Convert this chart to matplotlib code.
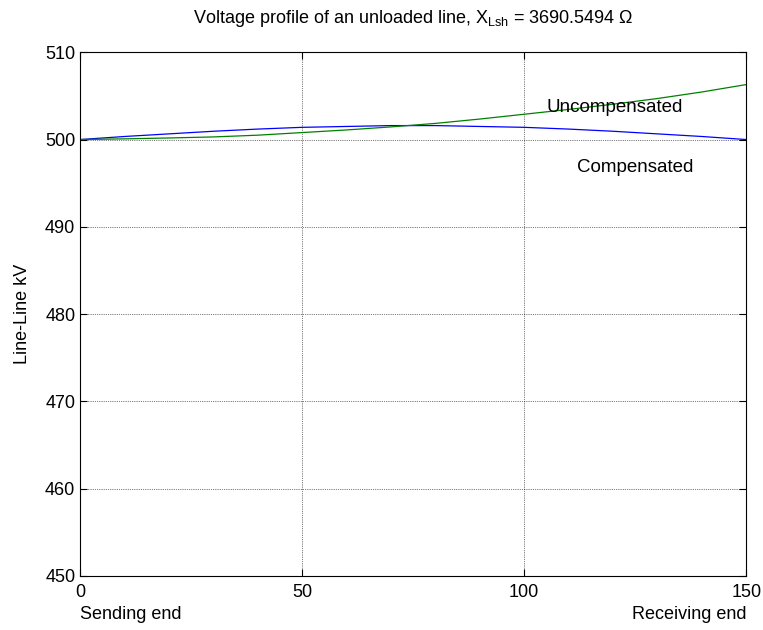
import matplotlib
matplotlib.use("Agg")
import matplotlib.pyplot as plt

plt.rcParams['font.family'] = ['Liberation Sans', 'DejaVu Sans']
plt.rcParams['mathtext.default'] = 'regular'

# distance along the line
dist = [0, 10, 20, 30, 40, 50, 60, 70, 80, 90, 100, 110, 120, 130, 140, 150]
# green: rises towards receiving end
uncomp = [500.0, 500.08, 500.18, 500.3, 500.5, 500.8, 501.1, 501.45, 501.85,
          502.35, 502.9, 503.45, 504.05, 504.7, 505.45, 506.3]
# blue: arc, back to 500 at receiving end
comp = [500.0, 500.35, 500.65, 500.95, 501.2, 501.4, 501.5, 501.6, 501.6,
        501.5, 501.4, 501.2, 500.95, 500.65, 500.35, 500.0]

xticks = [0, 50, 100, 150]
yticks = [450, 460, 470, 480, 490, 500, 510]

fig = plt.figure(figsize=(7.63, 6.3), dpi=100)
ax = fig.add_axes([0.105, 0.086, 0.873, 0.831])

ax.plot(dist, comp, color='blue', lw=0.9)
ax.plot(dist, uncomp, color='green', lw=0.9)

ax.set_xlim(0, 150)
ax.set_ylim(450, 510)
ax.set_xticks(xticks)
ax.set_yticks(yticks)
ax.tick_params(direction='in', top=True, right=True, labelsize=13, length=5)
ax.tick_params(axis='x', pad=6)
ax.grid(True, color='black', ls=':', lw=0.5)
for s in ax.spines.values():
    s.set_linewidth(0.8)

ax.text(105, 503.2, 'Uncompensated', fontsize=13.5)
ax.text(112, 496.3, 'Compensated', fontsize=13.5)

ax.set_title('Voltage profile of an unloaded line, X$_{Lsh}$ = 3690.5494 \u03a9',
             fontsize=13, pad=21)
ax.set_ylabel('Line-Line kV', fontsize=13, labelpad=10)
fig.text(0.105, 0.018, 'Sending end', fontsize=13, ha='left')
fig.text(0.978, 0.018, 'Receiving end', fontsize=13, ha='right')

fig.savefig('out.png')
